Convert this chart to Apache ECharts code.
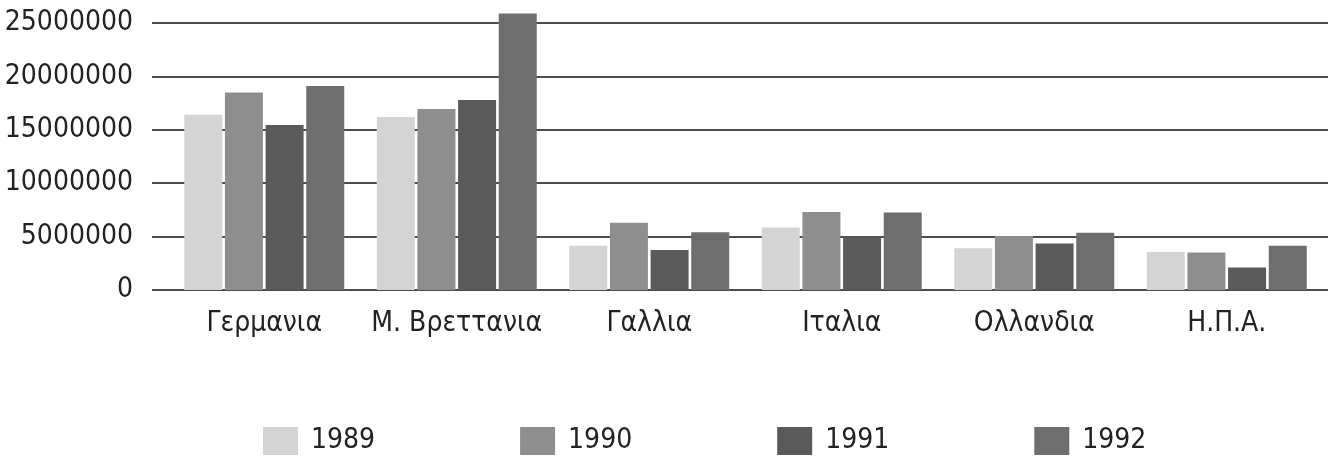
<!DOCTYPE html>
<html>
<head>
<meta charset="utf-8">
<script src="https://cdn.jsdelivr.net/npm/echarts@6/dist/echarts.min.js"></script>
<style>
  html, body { margin: 0; padding: 0; background: #fff; }
  #main { width: 1340px; height: 461px; }
</style>
</head>
<body>
<div id="main"></div>
<script>
var countries = ['Γερμανια', 'Μ. Βρεττανια', 'Γαλλια', 'Ιταλια', 'Ολλανδια', 'Η.Π.Α.'];
var years = ['1989', '1990', '1991', '1992'];
var v1989 = [16400000, 16200000, 4150000, 5850000, 3900000, 3550000];
var v1990 = [18500000, 16950000, 6300000, 7300000, 5050000, 3500000];
var v1991 = [15450000, 17800000, 3750000, 5000000, 4350000, 2100000];
var v1992 = [19100000, 25900000, 5400000, 7250000, 5350000, 4150000];
var colors = ['#d4d4d4', '#8e8e8e', '#5a5a5a', '#6e6e6e'];

var font = 'DejaVu Sans Condensed';
var myChart = echarts.init(document.getElementById('main'));

var values = [v1989, v1990, v1991, v1992];
var series = years.map(function (y, i) {
  return {
    name: y,
    type: 'bar',
    xAxisIndex: 1,
    yAxisIndex: 1,
    barWidth: 38,
    barGap: '7%',
    clip: false,
    itemStyle: { color: colors[i] },
    data: values[i]
  };
});

var option = {
  animation: false,
  color: colors,
  legend: {
    data: years,
    left: 258,
    top: 422,
    itemWidth: 35,
    itemHeight: 28,
    itemGap: 145,
    icon: 'rect',
    textStyle: { fontFamily: font, fontSize: 28, color: '#222', padding: [0, 0, 0, 8] }
  },
  grid: [
    { left: 152, right: 12, top: 23, bottom: 171 },
    { left: 168, right: 17, top: 23, bottom: 171 }
  ],
  xAxis: [
    { gridIndex: 0, type: 'value', show: false, min: 0, max: 1 },
    {
      gridIndex: 1,
      type: 'category',
      data: countries,
      axisLine: { show: false },
      axisTick: { show: false },
      axisLabel: { interval: 0, fontFamily: font, fontSize: 28, color: '#222', margin: 20 }
    }
  ],
  yAxis: [
    {
      gridIndex: 0,
      type: 'value',
      min: 0,
      max: 25000000,
      interval: 5000000,
      axisLine: { show: false },
      axisTick: { show: false },
      axisLabel: {
        fontFamily: font, fontSize: 28, color: '#222', margin: 19,
        formatter: function (v) { return String(v); }
      },
      splitLine: { lineStyle: { color: '#111', width: 1.5 } }
    },
    {
      gridIndex: 1,
      type: 'value',
      min: 0,
      max: 25000000,
      interval: 5000000,
      show: false,
      splitLine: { show: false }
    }
  ],
  series: series
};

myChart.setOption(option);
</script>
</body>
</html>
